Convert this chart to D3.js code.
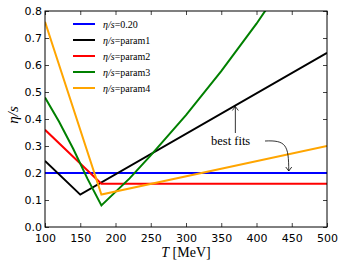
<!DOCTYPE html>
<html lang="en">
  <head>
    <meta charset="utf-8">
    <title>eta/s parametrisations</title>
    <script src="https://d3js.org/d3.v7.min.js"></script>
    <style type="text/css">
      html, body { margin: 0; padding: 0; background: #fff; }
      .tick text { font-family: "DejaVu Sans", sans-serif; font-size: 11px; }
      .serif { font-family: "Liberation Serif", "DejaVu Serif", serif; }
    </style>
  </head>
  <body>
    <svg width="343" height="267"></svg>
    <script type="text/javascript">

      // values (T in MeV, eta/s)
      var xTicks = [100, 150, 200, 250, 300, 350, 400, 450, 500];
      var yTicks = [0.0, 0.1, 0.2, 0.3, 0.4, 0.5, 0.6, 0.7, 0.8];

      var constT = [100, 500];
      var constV = [0.20, 0.20];
      var p1T = [100, 150, 500];
      var p1V = [0.245, 0.12, 0.645];
      var p2T = [100, 180, 500];
      var p2V = [0.36, 0.16, 0.16];
      var p3T = [100, 120, 140, 160, 180, 200, 220, 250, 300, 350, 400, 420];
      var p3V = [0.48, 0.39, 0.29, 0.18, 0.08, 0.13, 0.18, 0.265, 0.414, 0.577, 0.753, 0.83];
      var p4T = [100, 180, 500];
      var p4V = [0.76, 0.12, 0.30];

      var names = ["0.20", "param1", "param2", "param3", "param4"];
      var colors = ["#0000ff", "#000000", "#ff0000", "#008000", "#ffa500"];

      var series = [[constT, constV], [p1T, p1V], [p2T, p2V], [p3T, p3V], [p4T, p4V]];

      var margin = {left: 45, right: 16, top: 11, bottom: 40};
      var w = 343, h = 267;

      var x = d3.scaleLinear().domain([100, 500]).range([margin.left, w - margin.right]);
      var y = d3.scaleLinear().domain([0, 0.8]).range([h - margin.bottom, margin.top]);

      var svg = d3.select("svg");

      svg.append("clipPath").attr("id", "plot")
        .append("rect")
        .attr("x", x(100)).attr("y", y(0.8))
        .attr("width", x(500) - x(100)).attr("height", y(0) - y(0.8));

      // inside ticks on all four sides
      function noText(g) { g.selectAll("text").remove(); g.select(".domain").remove(); }
      svg.append("g").attr("transform", "translate(0," + y(0) + ")")
        .call(d3.axisBottom(x).tickValues(xTicks).tickSizeInner(-4).tickSizeOuter(0).tickPadding(7))
        .call(function(g) { g.select(".domain").remove(); });
      svg.append("g").attr("transform", "translate(0," + y(0.8) + ")")
        .call(d3.axisTop(x).tickValues(xTicks).tickSizeInner(-4).tickSizeOuter(0))
        .call(noText);
      svg.append("g").attr("transform", "translate(" + x(100) + ",0)")
        .call(d3.axisLeft(y).tickValues(yTicks).tickSizeInner(-4).tickSizeOuter(0).tickPadding(3)
          .tickFormat(d3.format(".1f")))
        .call(function(g) { g.select(".domain").remove(); });
      svg.append("g").attr("transform", "translate(" + x(500) + ",0)")
        .call(d3.axisRight(y).tickValues(yTicks).tickSizeInner(-4).tickSizeOuter(0))
        .call(noText);
      svg.selectAll(".tick line").attr("stroke", "#444");
      svg.selectAll(".tick text").attr("fill", "#000");

      var line = d3.line()
        .x(function(d) { return x(d[0]); })
        .y(function(d) { return y(d[1]); });

      var lineG = svg.append("g").attr("clip-path", "url(#plot)");
      lineG.selectAll("path")
        .data(series)
        .enter()
        .append("path")
        .attr("fill", "none")
        .attr("stroke", function(d, i) { return colors[i]; })
        .attr("stroke-width", 2)
        .attr("d", function(d) { return line(d3.zip(d[0], d[1])); });

      // frame
      svg.append("rect")
        .attr("x", x(100)).attr("y", y(0.8))
        .attr("width", x(500) - x(100)).attr("height", y(0) - y(0.8))
        .attr("fill", "none").attr("stroke", "#000").attr("stroke-width", 1);

      // legend
      var leg = svg.append("g").attr("class", "serif");
      names.forEach(function(n, i) {
        var ly = 24 + i * 16;
        leg.append("line").attr("x1", 73).attr("x2", 95).attr("y1", ly).attr("y2", ly)
          .attr("stroke", colors[i]).attr("stroke-width", 2);
        var t = leg.append("text").attr("x", 103).attr("y", ly + 3.5).attr("font-size", 10);
        t.append("tspan").attr("font-style", "italic").text("η/s");
        t.append("tspan").text("=" + n);
      });

      // annotation
      svg.append("defs").append("marker")
        .attr("id", "head").attr("viewBox", "-6 -4 8 8")
        .attr("markerWidth", 8).attr("markerHeight", 8)
        .attr("markerUnits", "userSpaceOnUse").attr("orient", "auto")
        .append("path").attr("d", "M-4,-3L0,0L-4,3")
        .attr("fill", "none").attr("stroke", "#000").attr("stroke-width", 0.8);

      svg.append("text").attr("class", "serif")
        .attr("x", 211).attr("y", 145).attr("font-size", 12.5).text("best fits");

      var tip1 = [370, 0.12 + 0.525 * (370 - 150) / 350];
      svg.append("path")
        .attr("d", "M" + x(tip1[0]) + "," + 133 + "L" + x(tip1[0]) + "," + (y(tip1[1]) + 1))
        .attr("fill", "none").attr("stroke", "#000").attr("stroke-width", 0.8)
        .attr("marker-end", "url(#head)");

      var tx = x(450) - 3, ty = y(0.2) - 2;
      svg.append("path")
        .attr("d", "M265,141 C286,140 " + tx + ",145 " + tx + "," + ty)
        .attr("fill", "none").attr("stroke", "#000").attr("stroke-width", 0.8)
        .attr("marker-end", "url(#head)");

      // axis labels
      svg.append("text").attr("class", "serif")
        .attr("x", (x(100) + x(500)) / 2).attr("y", 257)
        .attr("text-anchor", "middle").attr("font-size", 14)
        .html('<tspan font-style="italic">T</tspan> [MeV]');

      svg.append("text").attr("class", "serif")
        .attr("transform", "translate(18," + ((y(0) + y(0.8)) / 2 - 4) + ") rotate(-90)")
        .attr("text-anchor", "middle").attr("font-size", 15)
        .attr("font-style", "italic").text("η/s");

    </script>
  </body>
</html>
